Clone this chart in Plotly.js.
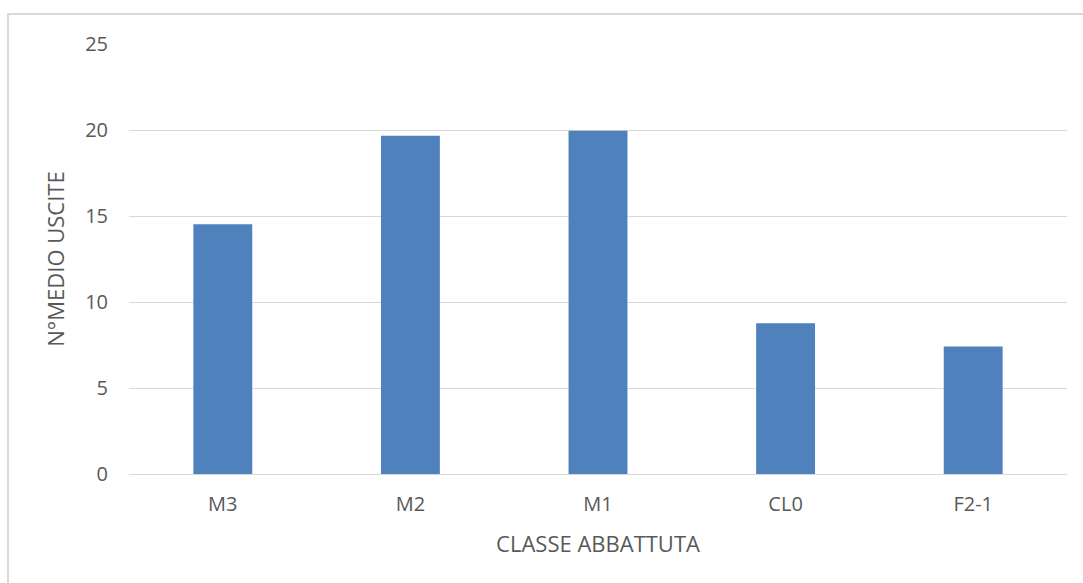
<!DOCTYPE html>
<html>
<head>
<meta charset="utf-8">
<script src="https://cdn.plot.ly/plotly-3.0.1.min.js"></script>
<style>
  html, body { margin: 0; padding: 0; background: #fff; overflow: hidden; }
  #wrap { position: relative; width: 1083px; height: 583px; }
  #chart { position: absolute; left: 0; top: 0; width: 1083px; height: 583px; }
  #frame { position: absolute; left: 7px; top: 13px; width: 1100px; height: 600px;
           border: 2px solid #d9d9d9; pointer-events: none; box-sizing: border-box; }
</style>
</head>
<body>
<div id="wrap">
  <div id="chart"></div>
  <div id="frame"></div>
</div>
<script>
const categories = ["M3", "M2", "M1", "CL0", "F2-1"];
const values = [14.52, 19.67, 19.95, 8.76, 7.42];
const yTicks = [0, 5, 10, 15, 20, 25];
const xTitle = "CLASSE ABBATTUTA";
const yTitle = "N°MEDIO USCITE";

const font = "'Open Sans', 'Noto Sans', sans-serif";
const textColor = "#595959";

const trace = {
  type: "bar",
  x: categories,
  y: values,
  marker: { color: "#4f81bd" },
  hoverinfo: "x+y"
};

const layout = {
  width: 1083,
  height: 583,
  margin: { l: 129, r: 16, t: 44, b: 109 },
  paper_bgcolor: "#ffffff",
  plot_bgcolor: "#ffffff",
  bargap: 0.686,
  showlegend: false,
  font: { family: font, color: textColor, size: 20 },
  xaxis: {
    type: "category",
    showgrid: false,
    showline: false,
    zeroline: false,
    ticks: "",
    ticklabelstandoff: 16,
    tickfont: { family: font, size: 20, color: textColor },
    title: { text: xTitle, font: { family: font, size: 22, color: textColor }, standoff: 20 }
  },
  yaxis: {
    range: [0, 25],
    tickvals: yTicks,
    showgrid: true,
    gridcolor: "#d9d9d9",
    gridwidth: 1,
    zeroline: true,
    zerolinecolor: "#d9d9d9",
    zerolinewidth: 1,
    showline: false,
    ticks: "",
    ticklabelstandoff: 20,
    tickfont: { family: font, size: 20, color: textColor },
    title: { text: yTitle, font: { family: font, size: 22, color: textColor }, standoff: 14 }
  }
};

Plotly.newPlot("chart", [trace], layout, { displayModeBar: false, staticPlot: true });
</script>
</body>
</html>
